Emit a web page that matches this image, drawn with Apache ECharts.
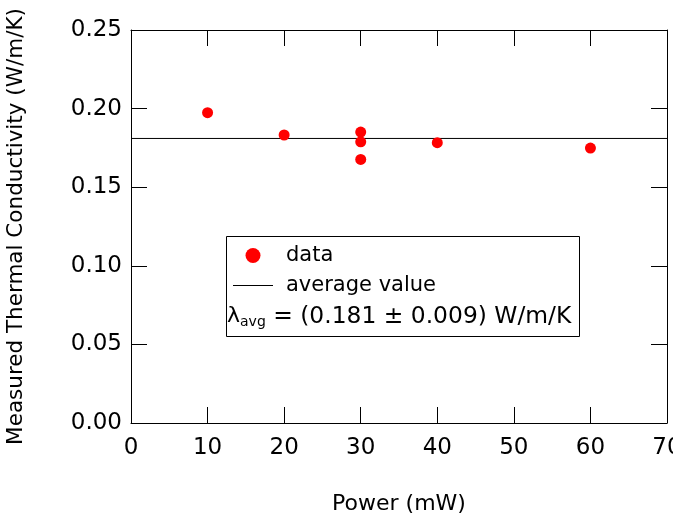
<!DOCTYPE html>
<html><head><meta charset="utf-8">
<script src="https://cdn.jsdelivr.net/npm/echarts@6/dist/echarts.min.js"></script>
<style>html,body{margin:0;padding:0;background:#fff}#c{width:673px;height:519px}</style>
</head><body><div id="c"></div>
<script>
const powerMW = [10, 20, 30, 30, 30, 40, 60];
const conductivity = [0.1974, 0.1832, 0.1851, 0.1789, 0.1677, 0.1783, 0.1749];
const averageValue = 0.181;
const averageX = [0, 70];
const xTicks = [0, 10, 20, 30, 40, 50, 60, 70];
const yTicks = [0.00, 0.05, 0.10, 0.15, 0.20, 0.25];
const FONT = 'DejaVu Sans';

const chart = echarts.init(document.getElementById('c'), null, {renderer: 'canvas'});
const tick = {show: true, inside: true, length: 16, lineStyle: {color: '#000', width: 1}};
const axisLine = {show: true, onZero: false, lineStyle: {color: '#000', width: 1}};
chart.setOption({
  animation: false,
  backgroundColor: '#fff',
  grid: {left: 131, right: 6, top: 30, bottom: 96, containLabel: false, outerBoundsMode: 'none'},
  xAxis: [{
    type: 'value', min: xTicks[0], max: xTicks[xTicks.length - 1], interval: 10,
    name: 'Power (mW)', nameLocation: 'middle', nameGap: 70,
    nameTextStyle: {fontFamily: FONT, fontSize: 22, color: '#000'},
    axisLine: axisLine, axisTick: tick, splitLine: {show: false},
    axisLabel: {fontFamily: FONT, fontSize: 23, color: '#000', margin: 14}
  }, {
    type: 'value', position: 'top', min: 0, max: 70, interval: 10,
    axisLine: axisLine, axisTick: tick, axisLabel: {show: false}, splitLine: {show: false}
  }],
  yAxis: [{
    type: 'value', min: yTicks[0], max: yTicks[yTicks.length - 1], interval: 0.05,
    name: 'Measured Thermal Conductivity (W/m/K)', nameLocation: 'middle', nameGap: 104,
    nameTextStyle: {fontFamily: FONT, fontSize: 21.5, color: '#000'},
    axisLine: axisLine, axisTick: tick, splitLine: {show: false},
    axisLabel: {fontFamily: FONT, fontSize: 23, color: '#000', margin: 9,
      formatter: v => v.toFixed(2)}
  }, {
    type: 'value', position: 'right', min: 0, max: 0.25, interval: 0.05,
    axisLine: axisLine, axisTick: tick, axisLabel: {show: false}, splitLine: {show: false}
  }],
  legend: {
    orient: 'vertical', left: 233, top: 245, itemWidth: 40, itemHeight: 15, itemGap: 9,
    padding: 0,
    textStyle: {fontFamily: FONT, fontSize: 21, color: '#000', padding: [0, 0, 0, 8]},
    data: [{name: 'data', icon: 'circle'},
           {name: 'average value', icon: 'path://M0,0L40,0L40,1L0,1Z'}]
  },
  graphic: [{
    type: 'rect', left: 224, top: 234, shape: {width: 353, height: 100},
    style: {fill: 'none', stroke: '#000', lineWidth: 1}, z: 1
  }, {
    type: 'text', left: 227, top: 305, z: 5,
    style: {
      text: '{l|λ}{s|avg}{t| = (0.181 ± 0.009) W/m/K}',
      rich: {
        l: {fontFamily: FONT, fontSize: 22, fill: '#000'},
        s: {fontFamily: FONT, fontSize: 14, fill: '#000', verticalAlign: 'bottom', padding: [11, 0, 0, 0]},
        t: {fontFamily: FONT, fontSize: 23.4, fill: '#000'}
      }
    }
  }],
  series: [{
    name: 'data', type: 'scatter', symbol: 'circle', symbolSize: 11,
    itemStyle: {color: '#ff0000', opacity: 1},
    data: powerMW.map((x, i) => [x, conductivity[i]]), z: 4
  }, {
    name: 'average value', type: 'line', symbol: 'none', showSymbol: false,
    lineStyle: {color: '#000', width: 1}, itemStyle: {color: '#000'},
    data: averageX.map(x => [x, averageValue]), z: 3
  }]
});
</script></body></html>
